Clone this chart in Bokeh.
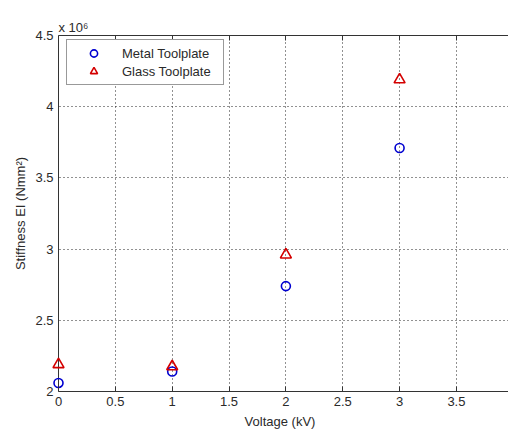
from bokeh.plotting import figure
from bokeh.models import (LinearAxis, FixedTicker, Range1d, Legend, LegendItem,
                          BoxAnnotation, Span)
from bokeh.embed import file_html
from bokeh.resources import INLINE

voltage = [0, 1, 2, 3]
metal = [2.06, 2.14, 2.74, 3.71]
glass = [2.19, 2.175, 2.96, 4.19]

x_ticks = [0, 0.5, 1, 1.5, 2, 2.5, 3, 3.5]
x_labels = ["0", "0.5", "1", "1.5", "2", "2.5", "3", "3.5"]
y_ticks = [2, 2.5, 3, 3.5, 4, 4.5]
y_labels = ["2", "2.5", "3", "3.5", "4", "4.5"]
x_lim = (0, 3.958)
y_lim = (2, 4.5)
x_pad = 0.0616  # small room so markers on the y axis are not clipped

FONT = "Liberation Sans"
AX = "#333333"
TXT = "#2a2a2a"
FS = "13px"

p = figure(width=508, height=431, output_backend="svg", toolbar_location=None,
           x_range=Range1d(x_lim[0] - x_pad, x_lim[1]), y_range=Range1d(*y_lim),
           min_border_left=51, min_border_right=0, min_border_top=35, min_border_bottom=39)
p.outline_line_color = None
p.background_fill_color = "white"
p.border_fill_color = "white"

p.title.text = "x 10\u2076"
p.title.text_font = FONT
p.title.text_font_size = FS
p.title.text_font_style = "normal"
p.title.text_color = TXT
p.title.align = "left"
p.title.offset = 7
p.title.standoff = 2

for ax, ticks, labels in [(p.xaxis[0], x_ticks, x_labels), (p.yaxis[0], y_ticks, y_labels)]:
    ax.ticker = FixedTicker(ticks=ticks)
    ax.major_label_overrides = {t: l for t, l in zip(ticks, labels)}
    ax.minor_tick_line_color = None
    ax.axis_line_color = AX
    ax.major_tick_line_color = AX
    ax.major_label_text_font = FONT
    ax.major_label_text_font_size = FS
    ax.major_label_text_color = TXT
    ax.axis_label_text_font = FONT
    ax.axis_label_text_font_size = FS
    ax.axis_label_text_font_style = "normal"
    ax.axis_label_text_color = TXT

p.xaxis.major_tick_in = 5
p.xaxis.major_tick_out = 0
p.xaxis.bounds = x_lim
p.yaxis.axis_line_color = None
p.yaxis.major_tick_line_color = None
p.yaxis.major_tick_in = 0
p.yaxis.major_tick_out = 0

p.xaxis.axis_label = "Voltage (kV)"
p.yaxis.axis_label = "Stiffness EI (Nmm\u00b2)"
p.xaxis.major_label_standoff = 5
p.yaxis.major_label_standoff = -2
p.xaxis.axis_label_standoff = 5
p.yaxis.axis_label_standoff = 4

top = LinearAxis(ticker=FixedTicker(ticks=x_ticks), major_tick_in=5, major_tick_out=0,
                 minor_tick_line_color=None, axis_line_color=AX, major_tick_line_color=AX,
                 major_label_overrides={t: "" for t in x_ticks}, major_label_standoff=0,
                 bounds=x_lim)
p.add_layout(top, "above")

p.xgrid.ticker = FixedTicker(ticks=x_ticks)
p.ygrid.ticker = FixedTicker(ticks=y_ticks)
p.grid.grid_line_color = "#222222"
p.grid.grid_line_dash = "1 3"
p.grid.grid_line_width = 1

# white strip left of x=0 hides grid stubs; y-axis line drawn at x=0
p.add_layout(BoxAnnotation(right=x_lim[0], fill_color="white", fill_alpha=1,
                           line_color=None, level="underlay"))
p.add_layout(Span(location=x_lim[0], dimension="height", line_color=AX, line_width=1,
                  level="underlay"))

r1 = p.scatter(voltage, metal, marker="circle", size=9, fill_color=None,
               line_color="#0000d0", line_width=1.6)
r2 = p.scatter(voltage, glass, marker="triangle", size=11, fill_color=None,
               line_color="#d40000", line_width=1.6)

legend = Legend(items=[LegendItem(label="Metal Toolplate", renderers=[r1]),
                       LegendItem(label="Glass Toolplate", renderers=[r2])],
                location=(15, 306), margin=0, padding=4, spacing=0,
                glyph_width=45, glyph_height=18, label_height=18, label_width=97,
                label_standoff=6,
                label_text_font=FONT, label_text_font_size=FS, label_text_color=TXT,
                border_line_color="#333333", border_line_width=1,
                background_fill_color="white", background_fill_alpha=1)
p.add_layout(legend)

open("out.html", "w").write(file_html(p, INLINE))
